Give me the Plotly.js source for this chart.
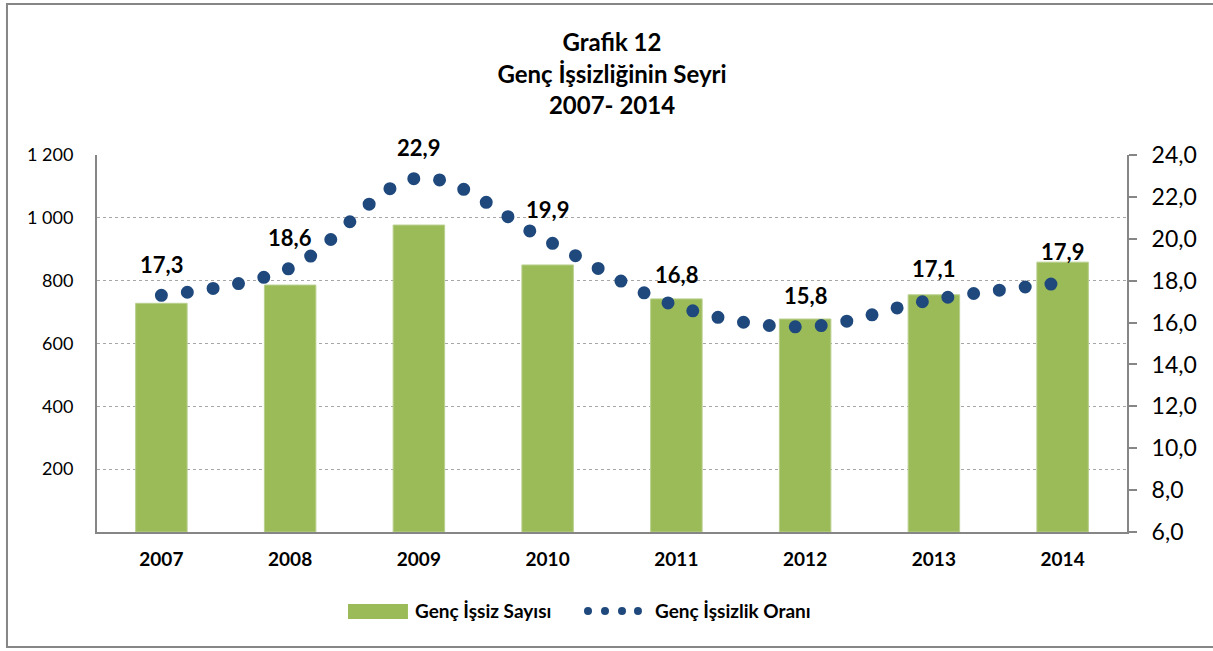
<!DOCTYPE html>
<html>
<head>
<meta charset="utf-8">
<script src="https://cdn.plot.ly/plotly-3.0.1.min.js"></script>
<style>
  html, body { margin: 0; padding: 0; background: #fff; }
  #chart { width: 1213px; height: 651px; }
  .scatterlayer .js-line { stroke-linecap: round !important; }
</style>
</head>
<body>
<div id="chart"></div>
<script>
const years = ["2007", "2008", "2009", "2010", "2011", "2012", "2013", "2014"];
const unemployedYouth = [728, 786, 977, 850, 742, 678, 755, 859];
const youthUnemploymentRate = [17.3, 18.6, 22.9, 19.9, 16.8, 15.8, 17.1, 17.9];
const leftTicks = [200, 400, 600, 800, 1000, 1200];
const seriesNames = ["Genç İşsiz Sayısı", "Genç İşsizlik Oranı"];
const titleLines = ["Grafik 12", "Genç İşsizliğinin Seyri", "2007- 2014"];

const FONT = "Lato, 'Open Sans', sans-serif";
const GREEN = "#9BBB59";
const BLUE = "#1F497D";
const AXIS = "#868686";

const traces = [
  {
    type: "bar",
    name: seriesNames[0],
    x: years,
    y: unemployedYouth,
    width: 0.4,
    marker: { color: GREEN, line: { color: "#b9d08e", width: 1 } },
    hoverinfo: "x+y",
    showlegend: false
  },
  {
    type: "scatter",
    mode: "lines",
    name: seriesNames[1],
    x: years,
    y: youthUnemploymentRate,
    yaxis: "y2",
    line: { color: BLUE, width: 13, shape: "spline", smoothing: 1, dash: "0px,26px" },
    hoverinfo: "x+y",
    showlegend: false
  }
];

const fmt = v => v.toFixed(1).replace(".", ",");

// data labels: positioned at category index (category axis) and rate value
const annotations = years.map((yr, i) => ({
  x: i, y: youthUnemploymentRate[i], xref: "x", yref: "y2",
  text: fmt(youthUnemploymentRate[i]),
  showarrow: false, yshift: 31,
  font: { family: FONT, size: 22, color: "#000", weight: 700 }
}));

// custom legend
annotations.push({
  x: 0.3068, y: -0.2095, xref: "paper", yref: "paper",
  xanchor: "left", yanchor: "middle", showarrow: false,
  text: seriesNames[0],
  font: { family: FONT, size: 19, color: "#000", weight: 700 }
});
annotations.push({
  x: 0.5398, y: -0.2095, xref: "paper", yref: "paper",
  xanchor: "left", yanchor: "middle", showarrow: false,
  text: seriesNames[1],
  font: { family: FONT, size: 19, color: "#000", weight: 700 }
});

const shapes = [
  { type: "rect", xref: "paper", yref: "paper",
    x0: -0.0874, x1: 1.0854, y0: -0.305, y1: 1.4005,
    line: { color: AXIS, width: 2 }, fillcolor: "rgba(0,0,0,0)", layer: "below" },
  { type: "rect", xref: "paper", yref: "paper",
    x0: 0.2437, x1: 0.3019, y0: -0.2308, y1: -0.191,
    line: { width: 0 }, fillcolor: GREEN }
];
const rx = 4 / 1030, ry = 4 / 377, cy = -0.2095;
[0.4767, 0.4932, 0.5097, 0.5252].forEach(cx => {
  shapes.push({
    type: "circle", xref: "paper", yref: "paper",
    x0: cx - rx, x1: cx + rx, y0: cy - ry, y1: cy + ry,
    line: { width: 0 }, fillcolor: BLUE
  });
});

const layout = {
  width: 1213,
  height: 651,
  margin: { l: 97, r: 86, t: 155, b: 119 },
  paper_bgcolor: "#fff",
  plot_bgcolor: "#fff",
  separators: ", ",
  font: { family: FONT, color: "#000" },
  title: {
    text: titleLines.join("<br>"),
    x: 0.5, xref: "paper", xanchor: "center",
    y: 0.921, yref: "container", yanchor: "middle",
    font: { family: FONT, size: 24, color: "#000", weight: 700 }
  },
  bargap: 0.6,
  xaxis: {
    type: "category",
    range: [-0.5, 7.5],
    showline: true, linecolor: AXIS, linewidth: 2,
    ticks: "", showgrid: false, zeroline: false,
    ticklabelstandoff: 9,
    tickfont: { family: FONT, size: 19, color: "#000", weight: 700 }
  },
  yaxis: {
    range: [0, 1200],
    tickvals: leftTicks,
    tickformat: ",d",
    showline: true, linecolor: AXIS, linewidth: 2,
    ticks: "",
    showgrid: true, gridcolor: "#A6A6A6", griddash: "dot", gridwidth: 1,
    zeroline: false,
    ticklabelstandoff: 18,
    tickfont: { family: FONT, size: 18, color: "#000" }
  },
  yaxis2: {
    range: [6, 24],
    dtick: 2,
    tick0: 6,
    tickformat: ".1f",
    overlaying: "y",
    side: "right",
    showline: true, linecolor: AXIS, linewidth: 2,
    ticks: "outside", ticklen: 8, tickwidth: 2, tickcolor: AXIS,
    showgrid: false, zeroline: false,
    ticklabelstandoff: 10,
    tickfont: { family: FONT, size: 23, color: "#000" }
  },
  annotations: annotations,
  shapes: shapes,
  showlegend: false
};

Plotly.newPlot("chart", traces, layout, { displayModeBar: false, staticPlot: true });
</script>
</body>
</html>
